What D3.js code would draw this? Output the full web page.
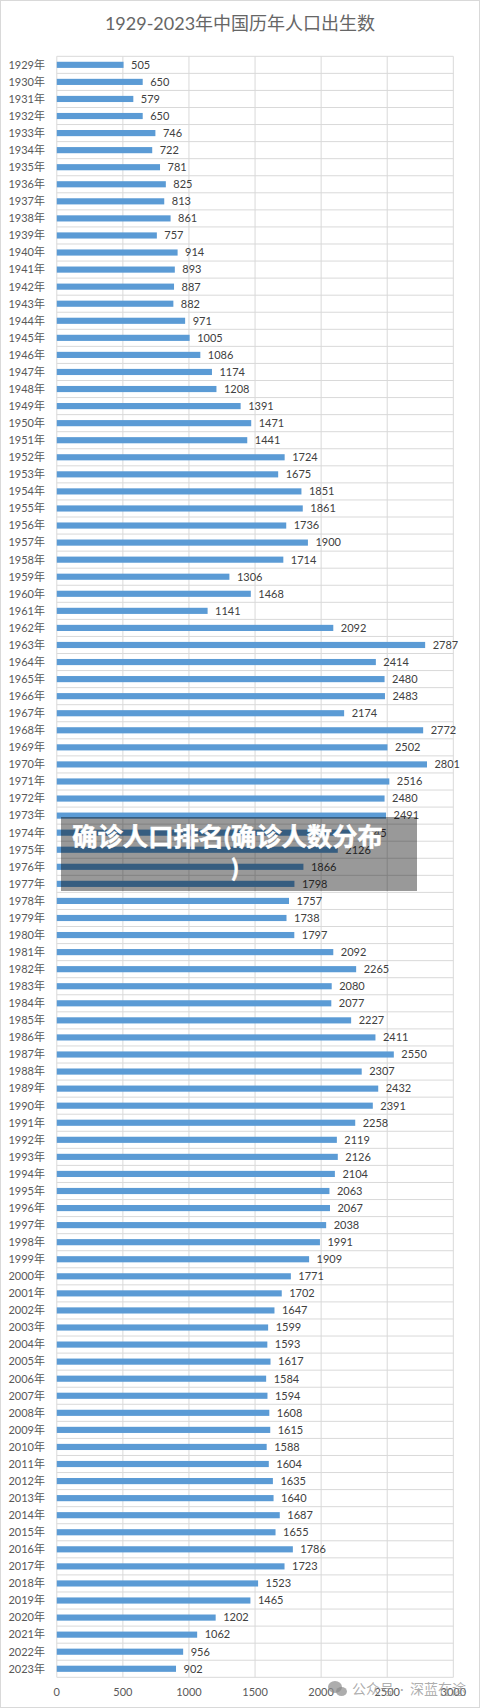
<!DOCTYPE html>
<html>
<head>
<meta charset="utf-8">
<script src="https://cdn.jsdelivr.net/npm/d3@7.9.0/dist/d3.min.js"></script>
<style>
  html, body { margin: 0; padding: 0; background: #fff; }
  svg { display: block; }
  text { font-family: Lato, "Noto Sans CJK SC", sans-serif; }
</style>
</head>
<body>
<svg id="chart" width="480" height="1708"></svg>
<script>
const title = '1929-2023年中国历年人口出生数';
const overlayLines = ['确诊人口排名(确诊人数分布', ')'];
const overlayCenters = [227.5, 235];
const watermarkParts = ['公众号', '·', '深蓝在途'];
const watermarkLefts = [352, 400, 410];

const years = d3.range(1929, 2024).map(y => y + '年');
const births = [
  505, 650, 579, 650, 746, 722, 781, 825, 813, 861,
  757, 914, 893, 887, 882, 971, 1005, 1086, 1174, 1208,
  1391, 1471, 1441, 1724, 1675, 1851, 1861, 1736, 1900, 1714,
  1306, 1468, 1141, 2092, 2787, 2414, 2480, 2483, 2174, 2772,
  2502, 2801, 2516, 2480, 2491, 2245, 2126, 1866, 1798, 1757,
  1738, 1797, 2092, 2265, 2080, 2077, 2227, 2411, 2550, 2307,
  2432, 2391, 2258, 2119, 2126, 2104, 2063, 2067, 2038, 1991,
  1909, 1771, 1702, 1647, 1599, 1593, 1617, 1584, 1594, 1608,
  1615, 1588, 1604, 1635, 1640, 1687, 1655, 1786, 1723, 1523,
  1465, 1202, 1062, 956, 902
];
const xTicks = [0, 500, 1000, 1500, 2000, 2500, 3000];

const width = 480, height = 1708;
const svg = d3.select('#chart');
const gridColor = '#d9d9d9', textColor = '#595959';

// frame around the picture
svg.append('rect')
  .attr('x', 0.5).attr('y', 0.5)
  .attr('width', width - 1).attr('height', height - 1)
  .attr('fill', '#fff').attr('stroke', gridColor);

const x = d3.scaleLinear().domain([0, 3000]).range([56.8, 453.3]);
const y = d3.scaleBand().domain(years).range([56.3, 1677.3]).paddingInner(0.64).paddingOuter(0.32);
const rowStep = y.step();

// grid
const grid = svg.append('g').attr('stroke', gridColor).attr('stroke-width', 1);
grid.selectAll('line.v')
  .data(xTicks)
  .enter().append('line')
  .attr('class', 'v')
  .attr('x1', d => x(d)).attr('x2', d => x(d))
  .attr('y1', 56.3).attr('y2', 1677.3);
grid.selectAll('line.h')
  .data(d3.range(years.length + 1))
  .enter().append('line')
  .attr('class', 'h')
  .attr('x1', x(0)).attr('x2', x(3000))
  .attr('y1', i => 56.3 + i * rowStep).attr('y2', i => 56.3 + i * rowStep);

// bars
svg.selectAll('rect.bar')
  .data(births)
  .enter().append('rect')
  .attr('class', 'bar')
  .attr('x', x(0))
  .attr('y', (d, i) => y(years[i]))
  .attr('width', d => x(d) - x(0))
  .attr('height', y.bandwidth())
  .attr('fill', '#5b9bd5');

// value labels
svg.selectAll('text.val')
  .data(births)
  .enter().append('text')
  .attr('class', 'val')
  .attr('x', d => x(d) + 7.5)
  .attr('y', (d, i) => y(years[i]) + y.bandwidth() / 2)
  .attr('dy', '0.35em')
  .attr('font-size', 11)
  .attr('fill', '#404040')
  .text(d => d);

// year labels
svg.selectAll('text.year')
  .data(years)
  .enter().append('text')
  .attr('class', 'year')
  .attr('x', 45)
  .attr('y', d => y(d) + y.bandwidth() / 2)
  .attr('dy', '0.35em')
  .attr('text-anchor', 'end')
  .attr('font-size', 11)
  .attr('fill', textColor)
  .text(d => d);

// x axis labels
svg.selectAll('text.tick')
  .data(xTicks)
  .enter().append('text')
  .attr('class', 'tick')
  .attr('x', d => x(d))
  .attr('y', 1696)
  .attr('text-anchor', 'middle')
  .attr('font-size', 11)
  .attr('fill', textColor)
  .text(d => d);

svg.append('text')
  .attr('x', 240).attr('y', 29.5)
  .attr('text-anchor', 'middle')
  .attr('font-size', 18)
  .attr('fill', '#666')
  .text(title);

// watermark: chat bubbles icon, then the account name
const wm = svg.append('g').attr('fill', '#8a8a8a').attr('fill-opacity', 0.7);
wm.append('ellipse').attr('cx', 335).attr('cy', 1687).attr('rx', 7).attr('ry', 6);
wm.append('ellipse').attr('cx', 341.5).attr('cy', 1691.5).attr('rx', 5.5).attr('ry', 4.5);
wm.selectAll('text')
  .data(watermarkParts)
  .enter().append('text')
  .attr('x', (d, i) => watermarkLefts[i])
  .attr('y', 1694)
  .attr('font-size', 14)
  .text(d => d);

// grey banner laid over the chart
svg.append('rect')
  .attr('x', 61).attr('y', 817)
  .attr('width', 356).attr('height', 74)
  .attr('fill', '#000').attr('fill-opacity', 0.4);

svg.selectAll('text.banner')
  .data(overlayLines)
  .enter().append('text')
  .attr('class', 'banner')
  .attr('x', (d, i) => overlayCenters[i])
  .attr('y', (d, i) => 846 + i * 31)
  .attr('text-anchor', 'middle')
  .attr('font-size', 25.3)
  .attr('font-weight', 'bold')
  .attr('fill', '#fff')
  .attr('stroke', '#fff')
  .attr('stroke-width', 0.5)
  .text(d => d);
</script>
</body>
</html>
